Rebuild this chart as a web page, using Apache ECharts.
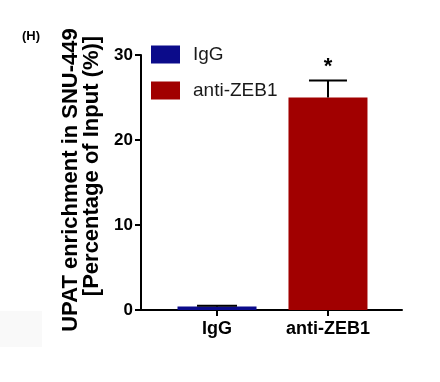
<!DOCTYPE html>
<html>
<head>
<meta charset="utf-8">
<script src="https://cdn.jsdelivr.net/npm/echarts@6/dist/echarts.min.js"></script>
<style>html,body{margin:0;padding:0;background:#fff;}#c{width:440px;height:382px;}</style>
</head>
<body>
<div id="c"></div>
<script>
var categories = ['IgG', 'anti-ZEB1'];
var means = [0.4, 25.0];
var errors = [0.1, 2.0];
var significance = ['', '*'];
var yTicks = [0, 10, 20, 30];
var yTitleLines = ['UPAT enrichment in SNU-449', '[Percentage of Input (%)]'];
var panelLabel = '(H)';
var colors = ['#0b0b8a', '#a10000'];

var chart = echarts.init(document.getElementById('c'));
var FONT = 'Liberation Sans, Arial, sans-serif';

var barSeries = categories.map(function (name, i) {
  return {
    name: name,
    type: 'bar',
    data: [[i + 1, means[i]]],
    barWidth: 79,
    barGap: '-100%',
    itemStyle: { color: colors[i] },
    silent: true
  };
});

var errData = categories.map(function (c, i) { return [i + 1, means[i], errors[i], i]; });

var errSeries = {
  type: 'custom',
  silent: true,
  data: errData,
  z: 10,
  renderItem: function (params, api) {
    var x = api.value(0), m = api.value(1), e = api.value(2), idx = api.value(3);
    var base = api.coord([x, m]);
    var top = api.coord([x, m + e]);
    var half = idx === 1 ? 19 : 20;
    var children = [
      { type: 'line', shape: { x1: base[0], y1: base[1], x2: top[0], y2: top[1] }, style: { stroke: '#000', lineWidth: 2 } },
      { type: 'line', shape: { x1: top[0] - half, y1: top[1], x2: top[0] + half, y2: top[1] }, style: { stroke: '#000', lineWidth: 2 } }
    ];
    if (significance[idx]) {
      children.push({ type: 'text', style: { text: significance[idx], x: top[0], y: top[1] - 3, align: 'center', verticalAlign: 'bottom', font: 'bold 22px ' + FONT, fill: '#000' } });
    }
    return { type: 'group', children: children };
  }
};

chart.setOption({
  animation: false,
  backgroundColor: '#fff',
  grid: { left: 141, right: 38, top: 55, bottom: 72 },
  legend: {
    orient: 'vertical',
    left: 146,
    top: 40,
    itemWidth: 29,
    itemHeight: 18,
    itemGap: 17,
    icon: 'rect',
    data: categories,
    textStyle: { fontSize: 19, color: '#1a1a1a', fontFamily: FONT, padding: [0, 0, 0, 8] },
    selectedMode: false
  },
  xAxis: {
    type: 'value',
    min: 0.315,
    max: 2.667,
    splitLine: { show: false },
    axisLine: { show: true, lineStyle: { color: '#000', width: 2 } },
    axisTick: { show: true, customValues: [1, 2], length: 6, lineStyle: { color: '#000', width: 2 } },
    axisLabel: {
      customValues: [1, 2],
      formatter: function (v) { return categories[Math.round(v) - 1] || ''; },
      fontSize: 18, fontWeight: 'bold', color: '#000', fontFamily: FONT, margin: 10
    }
  },
  yAxis: {
    type: 'value',
    min: 0,
    max: 30,
    interval: 10,
    splitLine: { show: false },
    axisLine: { show: true, lineStyle: { color: '#000', width: 2 } },
    axisTick: { show: true, length: 6, lineStyle: { color: '#000', width: 2 } },
    axisLabel: {
      customValues: yTicks,
      fontSize: 17, fontWeight: 'bold', color: '#000', fontFamily: FONT, margin: 8
    }
  },
  graphic: [
    { type: 'text', left: 22, top: 30, style: { text: panelLabel, font: 'bold 13px ' + FONT, fill: '#000' } },
    { type: 'text', x: 71, y: 180, rotation: Math.PI / 2, style: { text: yTitleLines[0], font: 'bold 22px ' + FONT, fill: '#000', align: 'center', verticalAlign: 'middle' } },
    { type: 'text', x: 92, y: 166, rotation: Math.PI / 2, style: { text: yTitleLines[1], font: 'bold 22px ' + FONT, fill: '#000', align: 'center', verticalAlign: 'middle' } },
    { type: 'rect', shape: { x: 0, y: 311, width: 42, height: 36 }, style: { fill: '#f9f9f9' }, z: -1 }
  ],
  series: barSeries.concat([errSeries])
});
</script>
</body>
</html>
